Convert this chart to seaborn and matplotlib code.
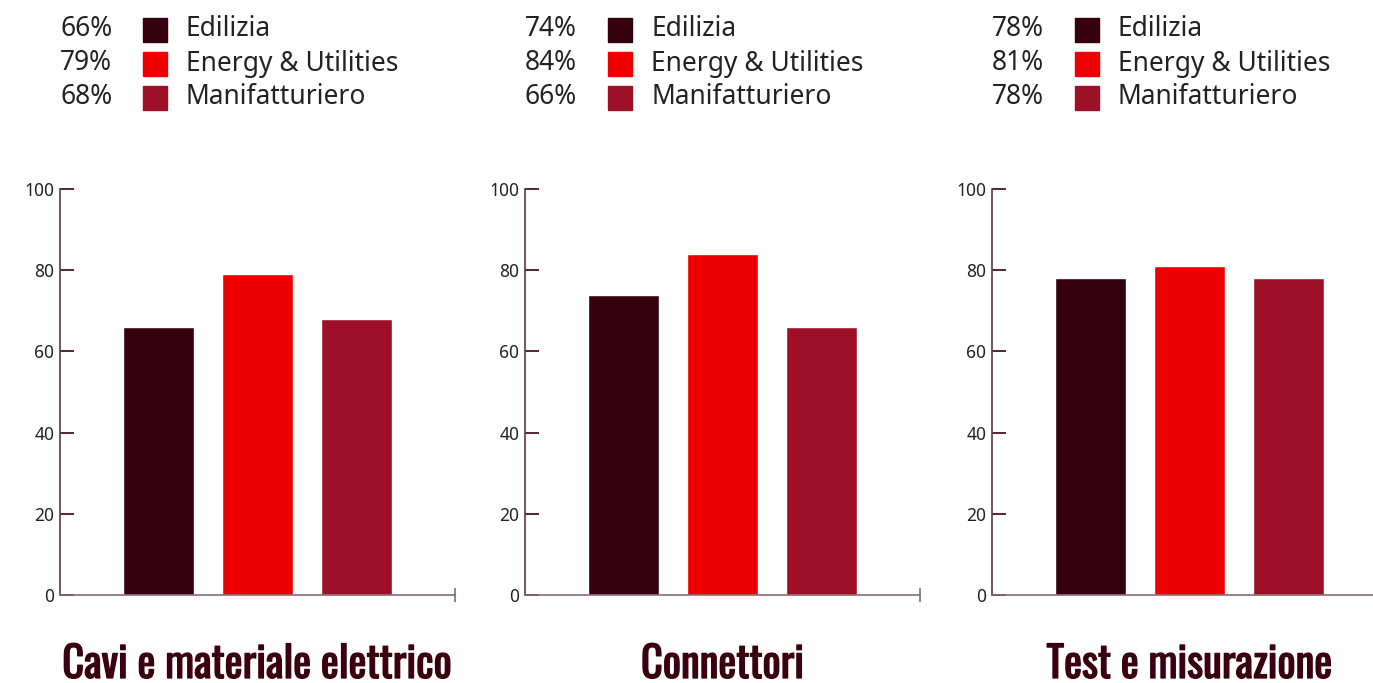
import matplotlib
matplotlib.use("Agg")
import matplotlib.pyplot as plt
from matplotlib import font_manager, patheffects
from matplotlib.patches import Rectangle
import seaborn as sns
import pandas as pd

# Survey results by product family and sector (percent)
panels = ["Cavi e materiale elettrico", "Connettori", "Test e misurazione"]
sectors = ["Edilizia", "Energy & Utilities", "Manifatturiero"]
cavi_values = [66, 79, 68]
connettori_values = [74, 84, 66]
test_values = [78, 81, 78]
yticks = [0, 20, 40, 60, 80, 100]

colors = ["#350010", "#ee0000", "#9e1028"]
dark = "#3a0012"

sns.set_theme(style="white")
plt.rcParams["font.family"] = ["Noto Sans", "DejaVu Sans"]

fonts = font_manager.fontManager.ttflist
installed = {f.name for f in fonts}
title_font = next((n for n in ["Oswald", "Barlow Condensed", "Asap Condensed", "Archivo Narrow"]
                   if n in installed), "DejaVu Sans")
# Heavier look for the condensed headline if no bold face is available
has_bold = any(f.name == title_font and isinstance(f.weight, int) and f.weight >= 600
               for f in fonts)
title_effects = [] if has_bold else [patheffects.withStroke(linewidth=0.9, foreground=dark)]

W, H = 1373, 683
fig = plt.figure(figsize=(W / 100, H / 100), dpi=100)
renderer = fig.canvas.get_renderer()

axis_left_px = [60, 525, 992]
axis_w_px = 395
axis_bottom_px = 595
axis_h_px = 406

all_values = [cavi_values, connettori_values, test_values]

# Size the headline font so the longest title spans ~388 px
probe = fig.text(0, 0, panels[0], fontsize=30, fontweight="bold", family=title_font)
probe_w = probe.get_window_extent(renderer).width
probe.remove()
title_size = 30 * 388 / probe_w

for title, vals, left in zip(panels, all_values, axis_left_px):
    ax = fig.add_axes([left / W, (H - axis_bottom_px) / H, axis_w_px / W, axis_h_px / H])
    df = pd.DataFrame({"settore": sectors, "valore": vals})
    sns.barplot(data=df, x="settore", y="valore", hue="settore", palette=colors,
                order=sectors, hue_order=sectors, width=0.72, saturation=1,
                legend=False, ax=ax)
    ax.set_xlim(-1, 3)
    ax.set_ylim(0, 100)
    ax.set_yticks(yticks)
    ax.set_xticks([3])
    ax.set_xticklabels([""])
    ax.set_xlabel("")
    ax.set_ylabel("")
    for s in ["top", "right"]:
        ax.spines[s].set_visible(False)
    ax.spines["left"].set_color("#5a3a48")
    ax.spines["bottom"].set_color("#8a6a7a")
    ax.spines["left"].set_linewidth(1.2)
    ax.spines["bottom"].set_linewidth(1.2)
    ax.tick_params(axis="y", direction="in", length=10, width=1.2, color=dark,
                   labelsize=12.5, labelcolor="#222222", pad=4, left=True)
    ax.tick_params(axis="x", direction="inout", length=10, width=1.2, color="#8a6a7a",
                   bottom=True)
    ax.patch.set_alpha(0)

    # Panel title beneath the axis
    fig.text((left + axis_w_px / 2) / W, 1 - 678 / H, title, ha="center", va="baseline",
             fontsize=title_size, fontweight="bold", family=title_font, color=dark,
             path_effects=title_effects)

    # Legend rows: percentage, colour swatch, sector name
    for i, (sec, v, c) in enumerate(zip(sectors, vals, colors)):
        yc = 29.5 + 34 * i
        fig.text(left / W, 1 - yc / H, f"{v}%", ha="left", va="center",
                 fontsize=19, color="#222222")
        fig.patches.append(Rectangle(((left + 83) / W, 1 - (yc + 12) / H), 24 / W, 24 / H,
                                     transform=fig.transFigure, color=c, figure=fig))
        fig.text((left + 126) / W, 1 - yc / H, sec, ha="left", va="center",
                 fontsize=19, color="#222222")

fig.savefig("out.png", dpi=100)
